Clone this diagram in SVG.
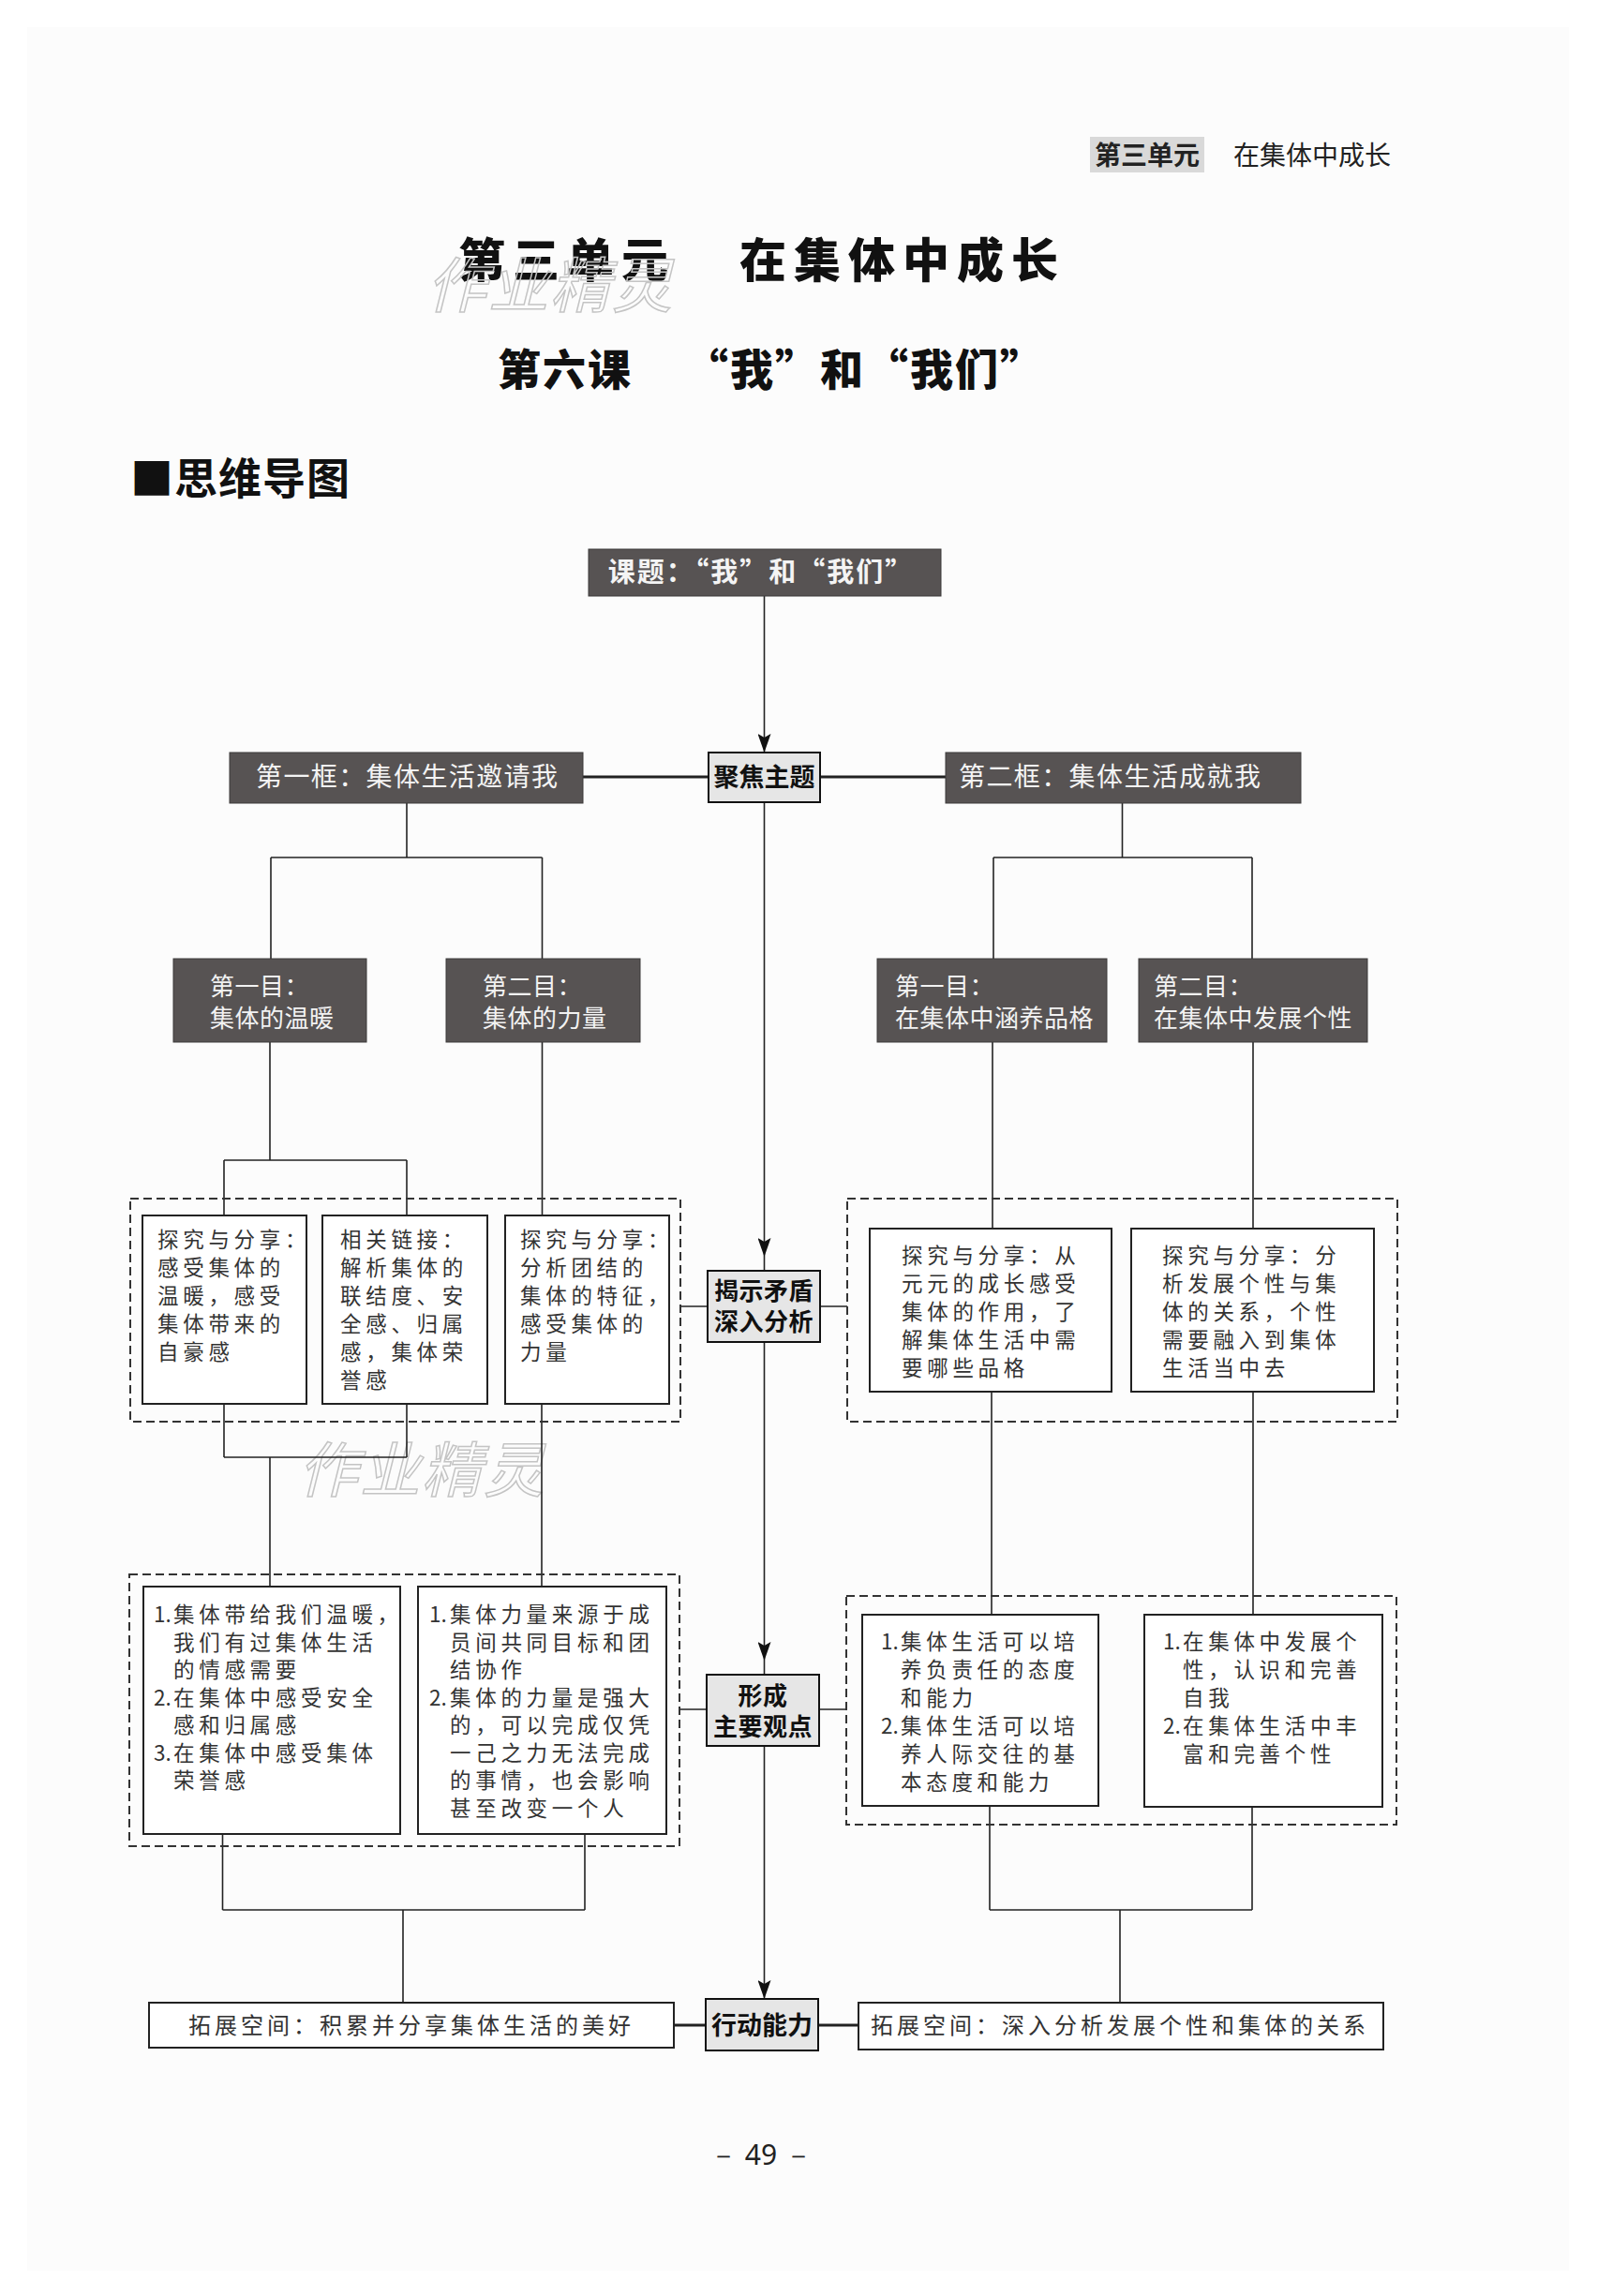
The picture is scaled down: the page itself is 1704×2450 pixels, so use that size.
<svg xmlns="http://www.w3.org/2000/svg" width="1704" height="2450" viewBox="0 0 1704 2450">
<defs>
<marker id="arr" markerUnits="userSpaceOnUse" markerWidth="20" markerHeight="14" refX="20" refY="7" orient="auto">
<path d="M0,0 L20,7 L0,14 L4,7 z" fill="#111"/>
</marker>
<style>
.t{font-family:"Noto Sans CJK SC","Noto Sans",sans-serif}
.dark{fill:#575353;stroke:#3c3a3a;stroke-width:1}
.light{fill:#e6e6e6;stroke:#111;stroke-width:2}
.box{fill:#fff;stroke:#222;stroke-width:2}
.dash{fill:none;stroke:#333;stroke-width:2;stroke-dasharray:9 5}
.ln{stroke:#222;stroke-width:1.6;fill:none}
.dl{stroke:#222;stroke-width:3;fill:none}
.body{font-size:22.5px;letter-spacing:4.7px;fill:#333}
.num{letter-spacing:0}
.wt{fill:#f4f4f4;font-size:28px;letter-spacing:1.4px}
.wt2{fill:#f2f2f2;font-size:26px;letter-spacing:0.5px}
.bt{font-weight:bold;font-size:27px;fill:#111;text-anchor:middle}
.bt2{font-weight:bold;font-size:26px;letter-spacing:0.5px;fill:#111;text-anchor:middle}
.ext{font-size:24px;letter-spacing:4px;fill:#333}
.wm{fill:none;stroke:#c4c4c4;stroke-width:1.5;font-size:64px;font-style:italic;letter-spacing:2px}
</style>
</defs>
<rect x="0" y="0" width="1704" height="2450" fill="#fff"/>
<rect x="29" y="29" width="1645" height="2394" fill="#fcfcfc"/>

<g id="header">
<rect x="1163" y="146" width="122" height="38" fill="#d9d9d9"/>
<text class="t" x="1168" y="176" font-size="28" font-weight="bold" fill="#222">第三单元</text>
<text class="t" x="1316" y="176" font-size="28" fill="#222">在集体中成长</text>
</g>

<g id="titles">
<text class="t" y="296" font-size="50" font-weight="900" letter-spacing="8" fill="#111"><tspan x="489">第三单元</tspan><tspan x="789">在集体中成长</tspan></text>
<text class="t" y="411" font-size="46" font-weight="900" letter-spacing="2" fill="#111"><tspan x="531">第六课</tspan><tspan x="731">“我”和“我们”</tspan></text>
<text class="t" x="139" y="527" font-size="46" font-weight="bold" letter-spacing="1" fill="#111">■思维导图</text>
</g>

<g id="watermarks">
<text class="t wm" x="455" y="328">作业精灵</text>
<text class="t wm" x="318" y="1592">作业精灵</text>
</g>

<g id="connectors">
<path class="ln" d="M815.5,636 V803" marker-end="url(#arr)"/>
<path class="ln" d="M815.5,856 V1341" marker-end="url(#arr)"/>
<path class="ln" d="M815.5,1341 V1356"/>
<path class="ln" d="M815.5,1432 V1772" marker-end="url(#arr)"/>
<path class="ln" d="M815.5,1772 V1787"/>
<path class="ln" d="M815.5,1863 V2133" marker-end="url(#arr)"/>
<path class="dl" d="M622,829 H756 M875,829 H1009"/>
<path class="ln" d="M726,1394 H755 M875,1394 H904"/>
<path class="ln" d="M725,1824 H754 M874,1824 H903"/>
<path class="dl" d="M719,2161 H753 M873,2161 H916"/>
<path class="ln" d="M434,857 V915 M289,915 H578.5 M289,915 V1023 M578.5,915 V1023"/>
<path class="ln" d="M288,1112 V1238 M239,1238 H434 M239,1238 V1297 M434,1238 V1297 M578.5,1112 V1297"/>
<path class="ln" d="M239,1498 V1555 M434,1498 V1555 M239,1555 H434 M288,1555 V1693 M578,1498 V1693"/>
<path class="ln" d="M237.5,1957 V2038 M624,1957 V2038 M237.5,2038 H624 M430,2038 V2137"/>
<path class="ln" d="M1197.5,857 V915 M1060,915 H1336 M1060,915 V1023 M1336,915 V1023"/>
<path class="ln" d="M1059,1112 V1311 M1337,1112 V1311 M1058,1485 V1723 M1337,1485 V1723"/>
<path class="ln" d="M1056,1927 V2038 M1336,1928 V2038 M1056,2038 H1336 M1195,2038 V2137"/>
</g>

<g id="n-keti">
<rect class="dark" x="628" y="586" width="376" height="50"/>
<text class="t" x="812" y="621" font-size="29" font-weight="bold" letter-spacing="2" fill="#f4f4f4" text-anchor="middle">课题：“我”和“我们”</text>
</g>
<g id="n-jujiao">
<rect class="light" x="756" y="803" width="119" height="53"/>
<text class="t bt" x="815.5" y="839">聚焦主题</text>
</g>
<g id="n-kuang1">
<rect class="dark" x="245" y="803" width="377" height="54"/>
<text class="t wt" x="273" y="839">第一框：集体生活邀请我</text>
</g>
<g id="n-kuang2">
<rect class="dark" x="1009" y="803" width="379" height="54"/>
<text class="t wt" x="1023" y="839">第二框：集体生活成就我</text>
</g>

<g id="n-mu1-left">
<rect class="dark" x="185" y="1023" width="206" height="89"/>
<text class="t wt2"><tspan x="224" y="1062">第一目：</tspan><tspan x="224" y="1096">集体的温暖</tspan></text>
</g>
<g id="n-mu2-left">
<rect class="dark" x="476" y="1023" width="207" height="89"/>
<text class="t wt2"><tspan x="515" y="1062">第二目：</tspan><tspan x="515" y="1096">集体的力量</tspan></text>
</g>
<g id="n-mu1-right">
<rect class="dark" x="936" y="1023" width="245" height="89"/>
<text class="t wt2"><tspan x="955" y="1062">第一目：</tspan><tspan x="955" y="1096">在集体中涵养品格</tspan></text>
</g>
<g id="n-mu2-right">
<rect class="dark" x="1215" y="1023" width="244" height="89"/>
<text class="t wt2"><tspan x="1231" y="1062">第二目：</tspan><tspan x="1231" y="1096">在集体中发展个性</tspan></text>
</g>

<g id="g-explore-left">
<rect class="dash" x="139" y="1279" width="587" height="238"/>
</g>
<g id="n-explore-l1">
<rect class="box" x="152" y="1297" width="175" height="201"/>
<text class="t body"><tspan x="168" y="1331">探究与分享：</tspan><tspan x="168" y="1361">感受集体的</tspan><tspan x="168" y="1391">温暖，感受</tspan><tspan x="168" y="1421">集体带来的</tspan><tspan x="168" y="1451">自豪感</tspan></text>
</g>
<g id="n-explore-l2">
<rect class="box" x="344" y="1297" width="176" height="201"/>
<text class="t body"><tspan x="363" y="1331">相关链接：</tspan><tspan x="363" y="1361">解析集体的</tspan><tspan x="363" y="1391">联结度、安</tspan><tspan x="363" y="1421">全感、归属</tspan><tspan x="363" y="1451">感，集体荣</tspan><tspan x="363" y="1481">誉感</tspan></text>
</g>
<g id="n-explore-l3">
<rect class="box" x="539" y="1297" width="175" height="201"/>
<text class="t body"><tspan x="555" y="1331">探究与分享：</tspan><tspan x="555" y="1361">分析团结的</tspan><tspan x="555" y="1391">集体的特征，</tspan><tspan x="555" y="1421">感受集体的</tspan><tspan x="555" y="1451">力量</tspan></text>
</g>

<g id="n-jieshi">
<rect class="light" x="755" y="1356" width="120" height="76"/>
<text class="t bt2"><tspan x="815" y="1387">揭示矛盾</tspan><tspan x="815" y="1420">深入分析</tspan></text>
</g>

<g id="g-explore-right">
<rect class="dash" x="904" y="1279" width="587" height="238"/>
</g>
<g id="n-explore-r1">
<rect class="box" x="928" y="1311" width="258" height="174"/>
<text class="t body"><tspan x="962" y="1348">探究与分享：从</tspan><tspan x="962" y="1378">元元的成长感受</tspan><tspan x="962" y="1408">集体的作用，了</tspan><tspan x="962" y="1438">解集体生活中需</tspan><tspan x="962" y="1468">要哪些品格</tspan></text>
</g>
<g id="n-explore-r2">
<rect class="box" x="1207" y="1311" width="259" height="174"/>
<text class="t body"><tspan x="1240" y="1348">探究与分享：分</tspan><tspan x="1240" y="1378">析发展个性与集</tspan><tspan x="1240" y="1408">体的关系，个性</tspan><tspan x="1240" y="1438">需要融入到集体</tspan><tspan x="1240" y="1468">生活当中去</tspan></text>
</g>

<g id="g-view-left">
<rect class="dash" x="138" y="1680" width="587" height="290"/>
</g>
<g id="n-view-l1">
<rect class="box" x="153" y="1693" width="274" height="264"/>
<text class="t body"><tspan class="num" x="164" y="1731">1.</tspan><tspan x="185" y="1731">集体带给我们温暖，</tspan><tspan x="185" y="1761">我们有过集体生活</tspan><tspan x="185" y="1790">的情感需要</tspan><tspan class="num" x="164" y="1820">2.</tspan><tspan x="185" y="1820">在集体中感受安全</tspan><tspan x="185" y="1849">感和归属感</tspan><tspan class="num" x="164" y="1879">3.</tspan><tspan x="185" y="1879">在集体中感受集体</tspan><tspan x="185" y="1908">荣誉感</tspan></text>
</g>
<g id="n-view-l2">
<rect class="box" x="446" y="1693" width="265" height="264"/>
<text class="t body"><tspan class="num" x="458" y="1731">1.</tspan><tspan x="480" y="1731">集体力量来源于成</tspan><tspan x="480" y="1761">员间共同目标和团</tspan><tspan x="480" y="1790">结协作</tspan><tspan class="num" x="458" y="1820">2.</tspan><tspan x="480" y="1820">集体的力量是强大</tspan><tspan x="480" y="1849">的，可以完成仅凭</tspan><tspan x="480" y="1879">一己之力无法完成</tspan><tspan x="480" y="1908">的事情，也会影响</tspan><tspan x="480" y="1938">甚至改变一个人</tspan></text>
</g>

<g id="n-xingcheng">
<rect class="light" x="754" y="1787" width="120" height="76"/>
<text class="t bt2"><tspan x="814" y="1819">形成</tspan><tspan x="814" y="1852">主要观点</tspan></text>
</g>

<g id="g-view-right">
<rect class="dash" x="903" y="1703" width="587" height="244"/>
</g>
<g id="n-view-r1">
<rect class="box" x="920" y="1723" width="252" height="204"/>
<text class="t body"><tspan class="num" x="940" y="1760">1.</tspan><tspan x="961" y="1760">集体生活可以培</tspan><tspan x="961" y="1790">养负责任的态度</tspan><tspan x="961" y="1820">和能力</tspan><tspan class="num" x="940" y="1850">2.</tspan><tspan x="961" y="1850">集体生活可以培</tspan><tspan x="961" y="1880">养人际交往的基</tspan><tspan x="961" y="1910">本态度和能力</tspan></text>
</g>
<g id="n-view-r2">
<rect class="box" x="1221" y="1723" width="254" height="205"/>
<text class="t body"><tspan class="num" x="1241" y="1760">1.</tspan><tspan x="1262" y="1760">在集体中发展个</tspan><tspan x="1262" y="1790">性，认识和完善</tspan><tspan x="1262" y="1820">自我</tspan><tspan class="num" x="1241" y="1850">2.</tspan><tspan x="1262" y="1850">在集体生活中丰</tspan><tspan x="1262" y="1880">富和完善个性</tspan></text>
</g>

<g id="n-ext-left">
<rect class="box" x="159" y="2137" width="560" height="48"/>
<text class="t ext" x="201" y="2170">拓展空间：积累并分享集体生活的美好</text>
</g>
<g id="n-xingdong">
<rect class="light" x="753" y="2133" width="120" height="55"/>
<text class="t bt" x="813" y="2171">行动能力</text>
</g>
<g id="n-ext-right">
<rect class="box" x="916" y="2137" width="560" height="50"/>
<text class="t ext" x="929" y="2170">拓展空间：深入分析发展个性和集体的关系</text>
</g>

<g id="page-number">
<text x="812" y="2310" font-family="'Noto Sans',sans-serif" font-size="30" fill="#222" text-anchor="middle">－ 49 －</text>
</g>
</svg>
